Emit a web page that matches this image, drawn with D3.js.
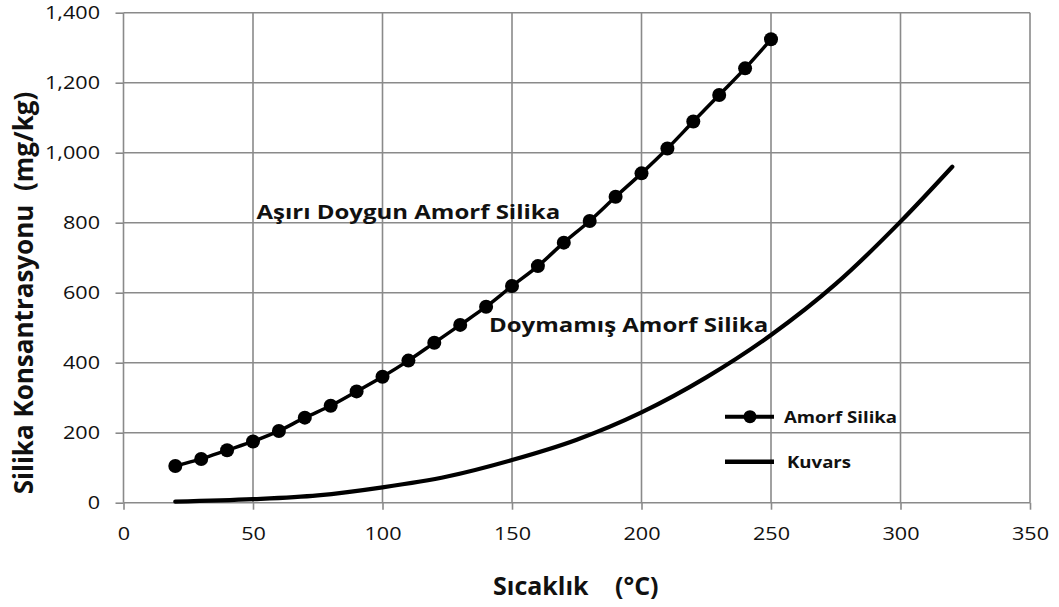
<!DOCTYPE html>
<html>
<head>
<meta charset="utf-8">
<script src="https://cdn.jsdelivr.net/npm/d3@7"></script>
<style>
  body { margin: 0; background: #fff; }
  svg text { font-family: "Open Sans", sans-serif; }
  .tick text { font-size: 18px; fill: #111; }
</style>
</head>
<body>
<div id="chart"></div>
<script>
// data
var amorfTemp = [20, 30, 40, 50, 60, 70, 80, 90, 100, 110, 120, 130, 140, 150, 160, 170, 180, 190, 200, 210, 220, 230, 240, 250];
var amorfValue = [105, 125, 150, 175, 205, 243, 277, 318, 360, 406, 457, 508, 560, 619, 676, 743, 805, 874, 941, 1012, 1089, 1165, 1241, 1324];
var kuvarsTemp = [20, 50, 75, 100, 125, 150, 175, 200, 225, 250, 275, 300, 320];
var kuvarsValue = [3, 10, 21, 44, 75, 122, 180, 258, 358, 479, 625, 803, 960];
var xTicks = [0, 50, 100, 150, 200, 250, 300, 350];
var yTicks = [0, 200, 400, 600, 800, 1000, 1200, 1400];

var svgWidth = 1059;
var svgHeight = 607;

var margin = { top: 12.7, right: 28, bottom: 104, left: 123.5 };
var width = 1030 - margin.left;
var height = 502.7 - margin.top;

// the lettering in the original is a bit wide, stretch it sideways
var sx = 1.2;

var svg = d3.select("#chart")
  .append("svg")
  .attr("width", svgWidth)
  .attr("height", svgHeight);

var chartGroup = svg.append("g")
  .attr("transform", `translate(${margin.left}, ${margin.top})`);

var xScale = d3.scaleLinear().domain([0, 350]).range([0, width]);
var yScale = d3.scaleLinear().domain([0, 1400]).range([height, 0]);

// gridlines
chartGroup.append("g")
  .selectAll("line")
  .data(yTicks)
  .enter()
  .append("line")
  .attr("x1", 0)
  .attr("x2", width)
  .attr("y1", d => yScale(d))
  .attr("y2", d => yScale(d))
  .attr("stroke", "#8a8a8a")
  .attr("stroke-width", 1.6);

chartGroup.append("g")
  .selectAll("line")
  .data(xTicks)
  .enter()
  .append("line")
  .attr("x1", d => xScale(d))
  .attr("x2", d => xScale(d))
  .attr("y1", 0)
  .attr("y2", height)
  .attr("stroke", "#8a8a8a")
  .attr("stroke-width", 1.6);

// axes
var xAxis = d3.axisBottom(xScale).tickValues(xTicks).tickSize(7).tickPadding(18);
var yAxis = d3.axisLeft(yScale).tickValues(yTicks).tickSize(8).tickPadding(15)
  .tickFormat(d3.format(","));

var xg = chartGroup.append("g")
  .attr("transform", `translate(0, ${height})`)
  .call(xAxis);
var yg = chartGroup.append("g").call(yAxis);

[xg, yg].forEach(g => {
  g.select(".domain").remove();
  g.selectAll(".tick line").attr("stroke", "#8a8a8a").attr("stroke-width", 1.6);
});
xg.selectAll(".tick text").attr("transform", `scale(${sx},1)`);
yg.selectAll(".tick text").attr("x", -23.5 / sx).attr("transform", `scale(${sx},1)`);

// curves
var amorf = amorfTemp.map((t, i) => ({ t: t, v: amorfValue[i] }));
var kuvars = kuvarsTemp.map((t, i) => ({ t: t, v: kuvarsValue[i] }));

var line = d3.line()
  .x(d => xScale(d.t))
  .y(d => yScale(d.v))
  .curve(d3.curveMonotoneX);

chartGroup.append("path")
  .datum(kuvars)
  .attr("fill", "none")
  .attr("stroke", "#000")
  .attr("stroke-width", 4.2)
  .attr("stroke-linecap", "round")
  .attr("d", line);

chartGroup.append("path")
  .datum(amorf)
  .attr("fill", "none")
  .attr("stroke", "#000")
  .attr("stroke-width", 3.5)
  .attr("d", line);

chartGroup.selectAll("circle.amorf")
  .data(amorf)
  .enter()
  .append("circle")
  .attr("class", "amorf")
  .attr("cx", d => xScale(d.t))
  .attr("cy", d => yScale(d.v))
  .attr("r", 7)
  .attr("fill", "#000");

function wideText(parent, x, y, size, str) {
  return parent.append("text")
    .attr("transform", `translate(${x}, ${y}) scale(${sx},1)`)
    .attr("font-size", size + "px")
    .attr("font-weight", "bold")
    .attr("fill", "#111")
    .text(str);
}

// region labels
wideText(svg, 256.5, 219, 20, "Aşırı Doygun Amorf Silika");
wideText(svg, 489, 332, 20, "Doymamış Amorf Silika");

// legend
var legend = svg.append("g")
  .attr("transform", "translate(725, 416.7)");

legend.append("line")
  .attr("x1", 0).attr("x2", 49).attr("y1", 0).attr("y2", 0)
  .attr("stroke", "#000").attr("stroke-width", 4);
legend.append("circle")
  .attr("cx", 25).attr("cy", 0).attr("r", 6.5).attr("fill", "#000");
wideText(legend, 59, 6, 15.5, "Amorf Silika");

legend.append("line")
  .attr("x1", 0).attr("x2", 49).attr("y1", 45).attr("y2", 45)
  .attr("stroke", "#000").attr("stroke-width", 4.5);
wideText(legend, 62, 51, 15.5, "Kuvars");

// axis titles
svg.append("text")
  .attr("transform", "translate(33, 293) rotate(-90)")
  .attr("text-anchor", "middle")
  .attr("font-size", "26px")
  .attr("font-weight", "bold")
  .attr("fill", "#111")
  .attr("xml:space", "preserve")
  .style("white-space", "pre")
  .text("Silika Konsantrasyonu  (mg/kg)");

var xTitle = svg.append("text")
  .attr("y", 595)
  .attr("font-size", "25px")
  .attr("font-weight", "bold")
  .attr("fill", "#111");
xTitle.append("tspan").attr("x", 493).text("Sıcaklık");
xTitle.append("tspan").attr("x", 615).text("(°C)");
</script>
</body>
</html>
